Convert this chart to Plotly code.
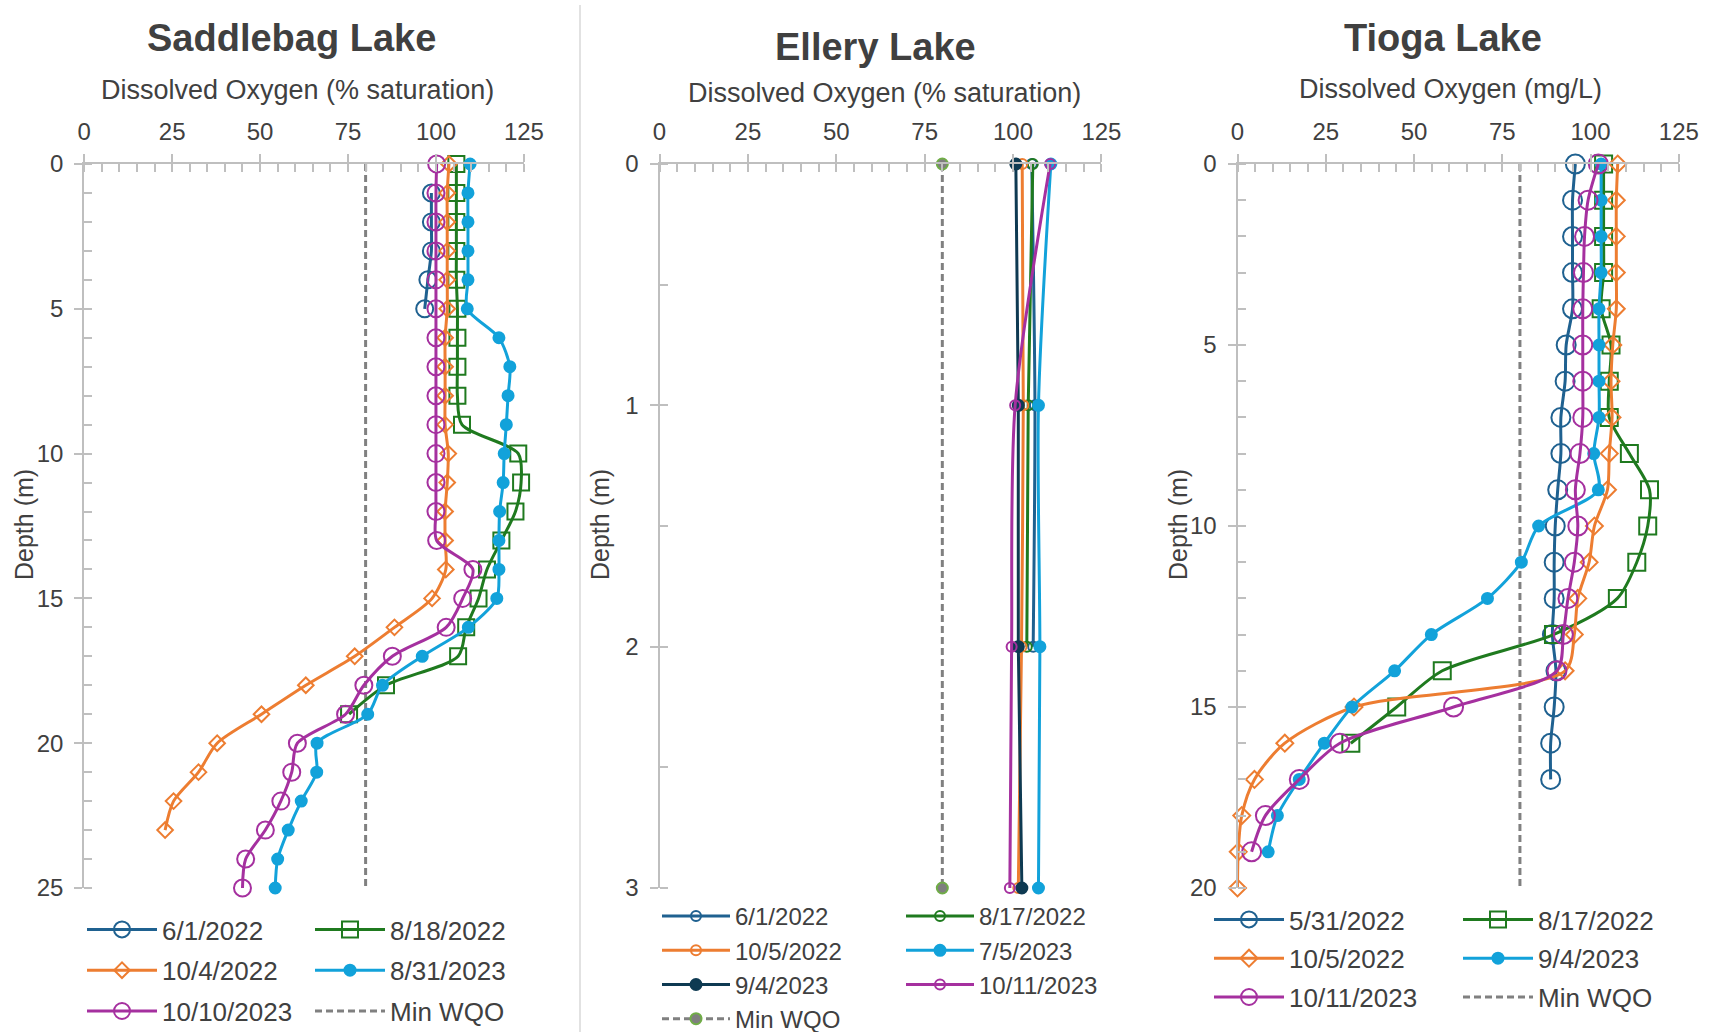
import plotly.graph_objects as go

W, H = 1715, 1032
FONT = "Liberation Sans, Arial, sans-serif"
TXT = "#404040"
AX = "#BFBFBF"

# ---------------- Colours ----------------
C_TEAL = "#1F6190"
C_ORANGE = "#ED7D31"
C_GREEN = "#1F7A1F"
C_BLUE = "#12A2DA"
C_MAGENTA = "#A5309F"
C_NAVY = "#0E3A52"
C_GRAY = "#808080"
C_WQO_EDGE = "#70AD47"

WQO = 80

# ---------------- Saddlebag Lake (% saturation) ----------------
sb_d_6_1_2022 = [1, 2, 3, 4, 5]
sb_v_6_1_2022 = [98.7, 98.7, 98.7, 97.7, 96.8]
sb_d_8_18_2022 = list(range(0, 20))
sb_v_8_18_2022 = [105.8, 105.8, 105.8, 105.8, 105.8, 106.1, 106.1, 106.1, 106.1, 107.4,
                  123.4, 124.2, 122.6, 118.6, 114.5, 112.1, 108.6, 106.3, 85.8, 75.3]
sb_d_10_4_2022 = list(range(0, 24))
sb_v_10_4_2022 = [103.7, 103.2, 103.2, 103.2, 103.2, 103.2, 102.6, 102.6, 102.6, 102.6,
                  103.5, 103.2, 102.6, 102.6, 102.8, 98.9, 88.2, 76.9, 63.0, 50.4,
                  37.8, 32.5, 25.4, 23.0]
sb_d_8_31_2023 = list(range(0, 26))
sb_v_8_31_2023 = [109.7, 109.1, 109.1, 109.1, 109.1, 108.9, 117.9, 121.0, 120.5, 120.0,
                  119.4, 119.1, 118.1, 117.9, 117.9, 117.3, 109.2, 96.1, 84.8, 80.6,
                  66.2, 66.1, 61.7, 58.0, 55.0, 54.3]
sb_d_10_10_2023 = list(range(0, 26))
sb_v_10_10_2023 = [100.2, 100.0, 100.0, 100.0, 100.0, 100.0, 100.0, 100.0, 100.0, 100.0,
                   100.0, 100.0, 100.0, 100.2, 110.5, 107.6, 102.9, 87.6, 79.5, 74.3,
                   60.6, 59.0, 55.9, 51.5, 45.9, 45.0]
sb_wqo_depth = [0, 25]

# ---------------- Ellery Lake (% saturation) ----------------
el_d_6_1_2022 = [0, 1, 2]
el_v_6_1_2022 = [105.3, 106.2, 105.7]
el_d_8_17_2022 = [0, 1, 2]
el_v_8_17_2022 = [105.6, 104.3, 103.9]
el_d_10_5_2022 = [0, 1, 2, 3]
el_v_10_5_2022 = [102.6, 102.9, 102.4, 101.5]
el_d_7_5_2023 = [0, 1, 2, 3]
el_v_7_5_2023 = [110.7, 107.2, 107.6, 107.2]
el_d_9_4_2023 = [0, 1, 2, 3]
el_v_9_4_2023 = [100.8, 101.5, 101.5, 102.5]
el_d_10_11_2023 = [0, 1, 2, 3]
el_v_10_11_2023 = [110.5, 100.6, 99.6, 99.1]
el_wqo_depth = [0, 3]

# ---------------- Tioga Lake ----------------
ti_d_5_31_2022 = list(range(0, 18))
ti_v_5_31_2022 = [95.7, 94.9, 94.9, 94.9, 94.9, 93.1, 92.8, 91.6, 91.6, 90.7,
                  90.0, 89.7, 89.7, 89.2, 90.2, 89.7, 88.7, 88.7]
ti_d_8_17_2022 = list(range(0, 17))
ti_v_8_17_2022 = [103.7, 103.7, 103.7, 103.7, 103.0, 105.8, 105.3, 105.3, 111.0, 116.7,
                  116.2, 113.1, 107.6, 89.5, 58.0, 45.1, 32.1]
ti_d_10_5_2022 = list(range(0, 21))
ti_v_10_5_2022 = [107.7, 107.3, 107.3, 107.3, 107.3, 106.3, 105.8, 106.1, 105.3, 104.8,
                  101.1, 99.6, 96.4, 95.4, 92.8, 33.0, 13.4, 4.8, 1.2, 0.2, 0.0]
ti_d_9_4_2023 = list(range(0, 20))
ti_v_9_4_2023 = [103.0, 103.0, 103.0, 103.0, 102.4, 102.4, 102.4, 102.4, 100.9, 102.2,
                 85.3, 80.4, 70.8, 54.9, 44.5, 32.4, 24.6, 17.5, 11.3, 8.7]
ti_d_10_11_2023 = list(range(0, 20))
ti_v_10_11_2023 = [102.2, 99.3, 98.3, 98.0, 97.8, 97.8, 97.8, 97.8, 97.0, 95.7,
                   96.4, 95.4, 93.6, 92.3, 90.5, 61.2, 29.0, 17.5, 7.9, 4.0]
ti_wqo_depth = [0, 20]

fig = go.Figure()


def add(x, y, name, color, symbol, size, xa, ya, legend, rank, mwidth=2):
    fig.add_trace(go.Scatter(
        x=x, y=y, name=name, mode="lines+markers", xaxis=xa, yaxis=ya,
        line=dict(color=color, width=3, shape="spline", smoothing=0.8),
        marker=dict(symbol=symbol, size=size, color=color,
                    line=dict(color=color, width=mwidth)),
        legend=legend, legendgroup=f"{legend}-{name}", legendrank=rank,
        cliponaxis=False, hoverinfo="x+y+name"))


# Saddlebag
fig.add_trace(go.Scatter(x=[WQO] * len(sb_wqo_depth), y=sb_wqo_depth, name="Min WQO", mode="lines",
                         line=dict(color=C_GRAY, width=3, dash="7px,4px"), xaxis="x", yaxis="y",
                         legend="legend2", legendgroup="l2-wqo", legendrank=3))
add(sb_v_6_1_2022, sb_d_6_1_2022, "6/1/2022", C_TEAL, "circle-open", 17, "x", "y", "legend", 1)
add(sb_v_8_18_2022, sb_d_8_18_2022, "8/18/2022", C_GREEN, "square-open", 16, "x", "y", "legend2", 1)
add(sb_v_10_4_2022, sb_d_10_4_2022, "10/4/2022", C_ORANGE, "diamond-open", 12, "x", "y", "legend", 2)
add(sb_v_8_31_2023, sb_d_8_31_2023, "8/31/2023", C_BLUE, "circle", 11, "x", "y", "legend2", 2)
add(sb_v_10_10_2023, sb_d_10_10_2023, "10/10/2023", C_MAGENTA, "circle-open", 17, "x", "y", "legend", 3)

# Ellery
fig.add_trace(go.Scatter(x=[WQO] * len(el_wqo_depth), y=el_wqo_depth, name="Min WQO", mode="lines+markers",
                         line=dict(color=C_GRAY, width=3, dash="7px,4px"),
                         marker=dict(symbol="circle", size=11, color="#7F7F7F",
                                     line=dict(color=C_WQO_EDGE, width=2)),
                         xaxis="x2", yaxis="y2", cliponaxis=False,
                         legend="legend3", legendgroup="l3-wqo", legendrank=4))
add(el_v_6_1_2022, el_d_6_1_2022, "6/1/2022", C_TEAL, "circle-open", 10, "x2", "y2", "legend3", 1)
add(el_v_8_17_2022, el_d_8_17_2022, "8/17/2022", C_GREEN, "circle-open", 10, "x2", "y2", "legend4", 1)
add(el_v_10_5_2022, el_d_10_5_2022, "10/5/2022", C_ORANGE, "circle-open", 10, "x2", "y2", "legend3", 2)
add(el_v_7_5_2023, el_d_7_5_2023, "7/5/2023", C_BLUE, "circle", 11, "x2", "y2", "legend4", 2)
add(el_v_9_4_2023, el_d_9_4_2023, "9/4/2023", C_NAVY, "circle", 11, "x2", "y2", "legend3", 3)
add(el_v_10_11_2023, el_d_10_11_2023, "10/11/2023", C_MAGENTA, "circle-open", 10, "x2", "y2", "legend4", 3)

# Tioga
fig.add_trace(go.Scatter(x=[WQO] * len(ti_wqo_depth), y=ti_wqo_depth, name="Min WQO", mode="lines",
                         line=dict(color=C_GRAY, width=3, dash="7px,4px"), xaxis="x3", yaxis="y3",
                         legend="legend6", legendgroup="l6-wqo", legendrank=3))
add(ti_v_5_31_2022, ti_d_5_31_2022, "5/31/2022", C_TEAL, "circle-open", 19, "x3", "y3", "legend5", 1)
add(ti_v_8_17_2022, ti_d_8_17_2022, "8/17/2022", C_GREEN, "square-open", 17, "x3", "y3", "legend6", 1)
add(ti_v_10_5_2022, ti_d_10_5_2022, "10/5/2022", C_ORANGE, "diamond-open", 13, "x3", "y3", "legend5", 2)
add(ti_v_9_4_2023, ti_d_9_4_2023, "9/4/2023", C_BLUE, "circle", 11, "x3", "y3", "legend6", 2)
add(ti_v_10_11_2023, ti_d_10_11_2023, "10/11/2023", C_MAGENTA, "circle-open", 19, "x3", "y3", "legend5", 3)


def px_x(v):
    return v / W


def px_y(v):
    return 1 - v / H


tickfont = dict(family=FONT, size=24, color=TXT)


def xcfg(d0, d1, anchor):
    return dict(domain=[px_x(d0), px_x(d1)], anchor=anchor, side="top", range=[0, 125],
                tick0=0, dtick=25, showline=True, linecolor=AX, linewidth=2,
                ticks="outside", ticklen=8, tickwidth=2, tickcolor=AX,
                minor=dict(dtick=5, ticks="inside", ticklen=8, tickwidth=1.5, tickcolor=AX),
                showgrid=False, zeroline=False, tickfont=tickfont, ticklabelstandoff=4,
                automargin=False, fixedrange=True)


def ycfg(anchor, top, dtick, minor):
    return dict(domain=[px_y(888), px_y(164)], anchor=anchor, range=[top, 0],
                tick0=0, dtick=dtick, showline=True, linecolor=AX, linewidth=2,
                ticks="outside", ticklen=8, tickwidth=2, tickcolor=AX,
                minor=dict(dtick=minor, ticks="inside", ticklen=8, tickwidth=1.5, tickcolor=AX),
                showgrid=False, zeroline=False, tickfont=tickfont, ticklabelstandoff=6,
                automargin=False, fixedrange=True)


def leg(x, ytop, size, gap, iw=70):
    return dict(x=px_x(x), y=px_y(ytop), xanchor="left", yanchor="top", orientation="v",
                font=dict(family=FONT, size=size, color=TXT), bgcolor="rgba(0,0,0,0)",
                itemwidth=iw, tracegroupgap=gap, traceorder="grouped", borderwidth=0)


def ann(text, x, y, size, bold=False, angle=0):
    return dict(text=f"<b>{text}</b>" if bold else text, x=px_x(x), y=px_y(y), xref="paper", yref="paper",
                xanchor="center", yanchor="middle", showarrow=False, textangle=angle,
                font=dict(family=FONT, size=size, color=TXT))


fig.update_layout(
    width=W, height=H, margin=dict(l=0, r=0, t=0, b=0, autoexpand=False),
    paper_bgcolor="white", plot_bgcolor="white",
    xaxis=xcfg(84.2, 523.9, "y"),
    xaxis2=xcfg(659.5, 1101.4, "y2"),
    xaxis3=xcfg(1237.5, 1678.8, "y3"),
    yaxis=ycfg("x", 25, 5, 1),
    yaxis2=ycfg("x2", 3, 1, 0.5),
    yaxis3=ycfg("x3", 20, 5, 1),
    legend=leg(82, 906, 26, 4),
    legend2=leg(310, 906, 26, 4),
    legend3=leg(657, 894, 24, 0, iw=68),
    legend4=leg(901, 894, 24, 0, iw=68),
    legend5=leg(1209, 896, 26, 2),
    legend6=leg(1458, 896, 26, 2),
    annotations=[
        ann("Saddlebag Lake", 291, 38, 38, bold=True),
        ann("Ellery Lake", 875, 47, 38, bold=True),
        ann("Tioga Lake", 1443, 38, 38, bold=True),
        ann("Dissolved Oxygen (% saturation)", 297, 90, 27),
        ann("Dissolved Oxygen (% saturation)", 884, 93, 27),
        ann("Dissolved Oxygen (mg/L)", 1450, 89, 27),
        ann("Depth (m)", 24, 525, 25, angle=-90),
        ann("Depth (m)", 600, 525, 25, angle=-90),
        ann("Depth (m)", 1178, 525, 25, angle=-90),
    ],
    shapes=[dict(type="line", xref="paper", yref="paper", x0=px_x(580), x1=px_x(580),
                 y0=0, y1=px_y(5), line=dict(color="#D9D9D9", width=1.5))],
    hovermode="closest",
)

fig.write_html("out.html", config={"displayModeBar": False},
               post_script="document.body.style.margin='0px';document.body.style.overflow='hidden';")
